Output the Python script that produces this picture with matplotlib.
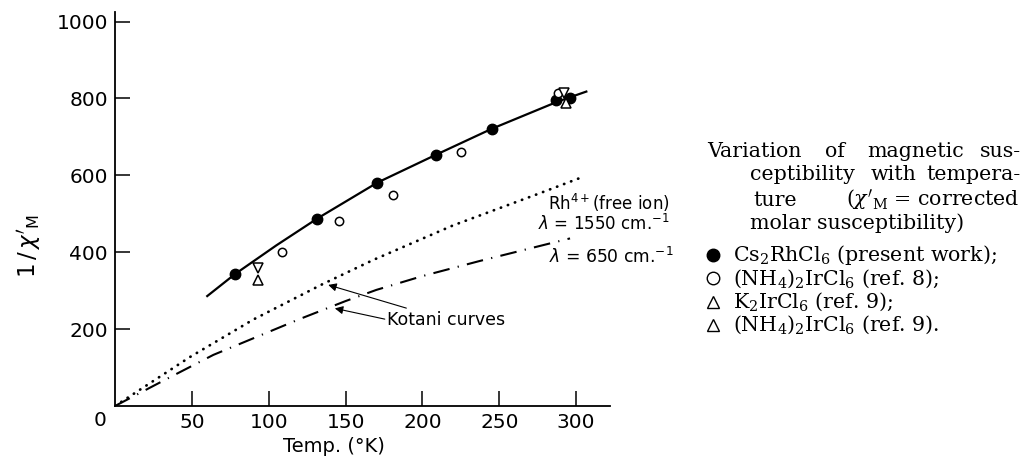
import matplotlib
matplotlib.use("Agg")
import matplotlib.pyplot as plt
from matplotlib.lines import Line2D

#%% data

# Cs2RhCl6 (present work)
t_cs = [78, 131.7, 170.6, 209, 245, 287.1, 295.8]
y_cs = [343, 487, 581, 654, 721, 796, 801]

# (NH4)2IrCl6 (ref. 8)
t_nh8 = [108.4, 145.8, 181, 225, 288.2]
y_nh8 = [401, 481, 550, 660, 814]

# K2IrCl6 (ref. 9)
t_k9 = [93.2, 293.6]
y_k9 = [328, 788]

# (NH4)2IrCl6 (ref. 9)
t_nh9 = [93.2, 292.1]
y_nh9 = [358, 814]

# curve drawn through the experimental points
t_fit = [60, 78, 105, 131.7, 170.6, 209, 245, 288, 306.6]
y_fit = [286, 343, 418, 488, 581, 654, 721, 792, 818]

# Kotani curve, Rh4+ free ion, lambda = 1550
t_free = [0, 49, 90, 135, 168, 220, 276, 303]
y_free = [0, 128, 225, 317, 380, 470, 553, 594]

# Kotani curve, lambda = 650
t_650 = [0, 32, 64, 120, 150, 170, 200, 237, 270, 296]
y_650 = [0, 67, 133, 226, 273, 302, 338, 377, 410, 436]

x_ticks = [50, 100, 150, 200, 250, 300]
y_ticks = [200, 400, 600, 800, 1000]

#%% plot

plt.rcParams['font.family'] = 'DejaVu Sans'
fig = plt.figure(figsize=(10.24, 4.63), dpi=100, facecolor='w')
ax = fig.add_axes([115/1024, 57/463, 495/1024, 394/463])

ax.plot(t_fit, y_fit, color='k', lw=1.6)
ax.plot(t_free, y_free, color='k', lw=2.0, dashes=[0.1, 2.6], dash_capstyle='round')
ax.plot(t_650, y_650, color='k', lw=1.5, dashes=[8, 4, 0.6, 4])

ax.plot(t_cs, y_cs, 'o', ms=7.5, mfc='k', mec='k')
ax.plot(t_nh8, y_nh8, 'o', ms=6, mfc='w', mec='k', mew=1.1)
ax.plot(t_k9, y_k9, '^', ms=6.5, mfc='w', mec='k', mew=1.1)
ax.plot(t_nh9, y_nh9, 'v', ms=6.5, mfc='w', mec='k', mew=1.1)

ax.set_xlim(0, 322)
ax.set_ylim(0, 1025)
ax.spines['top'].set_visible(False)
ax.spines['right'].set_visible(False)
ax.spines['left'].set_linewidth(1.3)
ax.spines['bottom'].set_linewidth(1.3)
ax.set_xticks(x_ticks)
ax.set_yticks(y_ticks)
ax.tick_params(direction='in', length=10.5, width=1.1, labelsize=14.5, pad=5)
ax.text(-10, -12, '0', fontsize=14.5, ha='center', va='top')

ax.set_xlabel('Temp. (°K)', fontsize=14)
ax.xaxis.set_label_coords(142.4/322, -41/394)
ax.xaxis.label.set_va('center')
ax.set_ylabel(r"$1\,/\,\chi'_{\rm M}$", fontsize=16.5)
ax.yaxis.set_label_coords(-85/495, 0.406)
ax.yaxis.label.set_va('center')

# curve labels
ax.text(361, 502, r'Rh$^{4+}$(free ion)' + '\n' + r'$\lambda$ = 1550 cm.$^{-1}$',
        fontsize=12, ha='right', va='center', linespacing=1.0, clip_on=False)
ax.annotate('Kotani curves', xy=(138.7, 315), xytext=(176.9, 224), fontsize=12.5,
            va='center', arrowprops=dict(arrowstyle='-|>', lw=0.8, color='k', mutation_scale=12,
                                         shrinkA=0, shrinkB=0))
ax.annotate('', xy=(143, 254), xytext=(175.5, 226),
            arrowprops=dict(arrowstyle='-|>', lw=0.8, color='k', mutation_scale=12,
                            shrinkA=0, shrinkB=0))
ax.text(363, 387, r'$\lambda$ = 650 cm.$^{-1}$', fontsize=12.3, ha='right', va='center',
        clip_on=False)

#%% caption at right

def ftext(x, y, s, **kw):
    fig.text(x/1024, 1 - y/463, s, fontsize=14.8, family='DejaVu Serif',
             math_fontfamily='dejavuserif', va='center', **kw)

ftext(707, 152, 'Variation')
ftext(825, 152, 'of')
ftext(867, 152, 'magnetic')
ftext(980, 152, 'sus-')
ftext(750, 175, 'ceptibility')
ftext(871, 175, 'with')
ftext(926, 175, 'tempera-')
ftext(753, 200, 'ture')
ftext(846, 200, r"($\chi'_{\rm M}$ = corrected")
ftext(750, 223, 'molar susceptibility)')

legend_rows = [
    ('o', 'k', r'Cs$_2$RhCl$_6$ (present work);'),
    ('o', 'w', r'(NH$_4$)$_2$IrCl$_6$ (ref. 8);'),
    ('^', 'w', r'K$_2$IrCl$_6$ (ref. 9);'),
    ('^', 'w', r'(NH$_4$)$_2$IrCl$_6$ (ref. 9).'),
]
for i, (m, fc, lab) in enumerate(legend_rows):
    yy = 255 + i*23.3
    fig.add_artist(Line2D([713/1024], [1 - yy/463], marker=m, ms=9, mfc=fc, mec='k',
                          mew=1.0, transform=fig.transFigure))
    ftext(733, yy, lab)

plt.savefig('out.png', dpi=100)
